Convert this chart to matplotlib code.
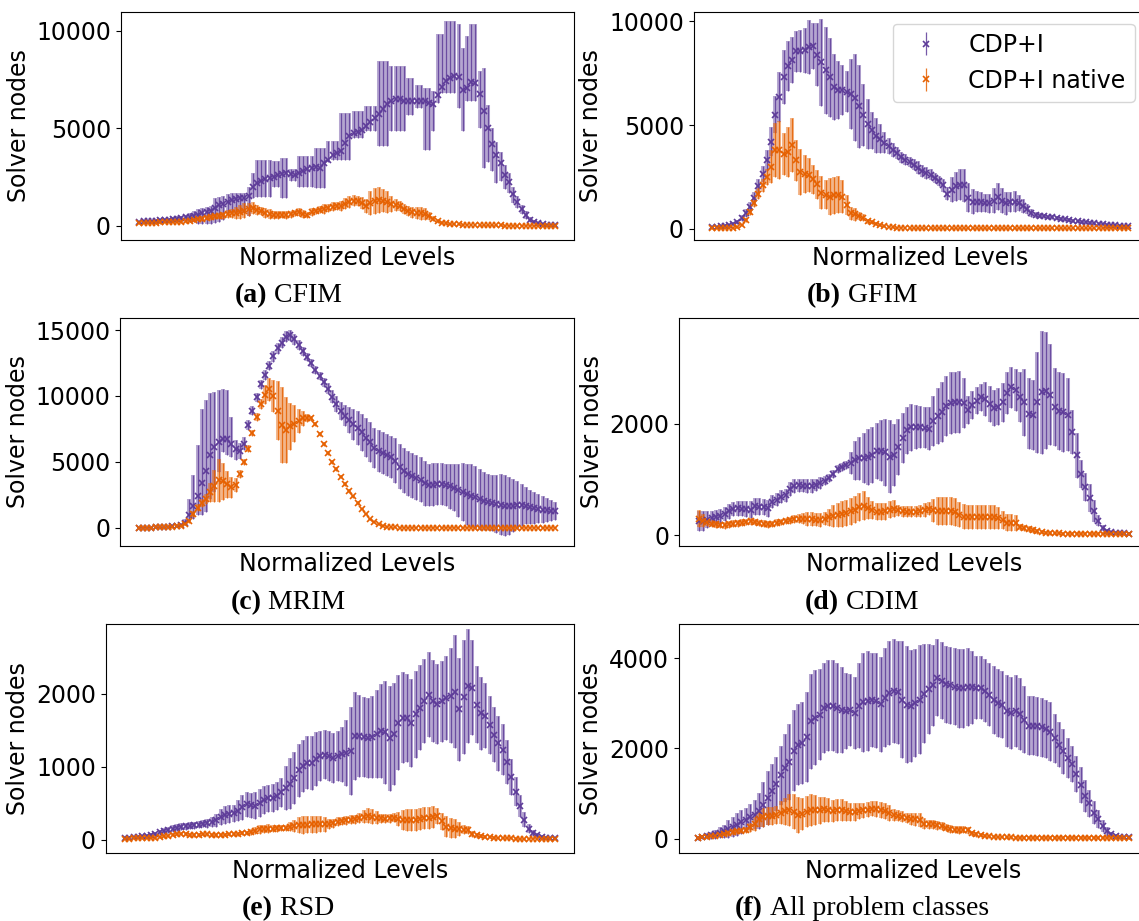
import numpy as np
import matplotlib
matplotlib.use("Agg")
import matplotlib.pyplot as plt

W, H = 1139, 921
PURPLE = "#5e3c99"
ORANGE = "#e66101"
series_labels = ["CDP+I", "CDP+I native"]

# ---------------- (a) CFIM ----------------
cfim_cdp_mean = [220,230,240,255,270,290,310,330,350,380,
 400,440,480,530,580,640,700,780,900,1050,
 1150,1250,1320,1380,1420,1450,1550,2000,2200,2300,
 2400,2450,2500,2600,2680,2700,2640,2620,2700,2800,
 2900,2960,3000,2990,3200,3400,3620,3750,3850,4250,
 4600,4760,4800,4900,5100,5350,5530,5760,6000,6250,
 6420,6480,6500,6420,6380,6390,6410,6400,6380,6300,
 6230,6700,7100,7400,7600,7700,7650,6950,7050,7350,
 7300,6750,5900,5000,4200,3650,3200,2600,2250,1650,
 1250,850,550,330,220,150,100,70,50,40]
cfim_cdp_low = [160,170,180,190,200,210,220,240,250,270,
 280,300,223,223,100,100,100,120,150,200,
 300,650,650,650,650,650,500,1421,1507,1507,
 1507,1507,2020,2020,1421,1421,2300,2300,2020,2020,
 2020,2020,1969,1969,1969,3300,3390,3390,3390,3390,
 3390,4503,4503,4503,4845,4845,4845,4075,4075,4075,
 4845,4845,4845,4845,5701,5701,6043,6043,3903,3903,
 4845,6300,6814,6814,6814,6814,6043,4879,6386,6386,
 6386,5016,2960,3300,2800,2200,2300,1900,1700,1200,
 900,600,380,220,140,90,60,40,25,20]
cfim_cdp_high = [280,290,300,320,340,370,400,420,450,490,
 520,580,651,750,873,900,950,1000,1455,1500,
 1550,1626,1700,1700,1700,1700,2000,2705,3390,3390,
 3390,3390,3304,3304,3475,3475,2900,2900,3561,3561,
 3561,3561,3989,3989,3989,4331,4331,4331,5787,5787,
 5787,5872,5872,5872,6129,6129,6129,8440,8440,8440,
 8183,8183,8183,8183,7584,7584,7242,7242,7070,7070,
 6899,9810,9810,10495,10495,10495,10323,9125,9724,10323,
 10323,7927,8100,6200,5000,4300,3800,3100,2700,2000,
 1550,1100,750,450,300,210,140,100,75,60]
cfim_nat_mean = [140,145,150,160,170,180,190,200,210,215,
 225,250,280,310,340,380,430,460,490,520,
 560,600,640,680,730,790,850,910,830,750,
 670,610,565,565,565,565,600,660,700,620,
 580,700,780,840,880,940,990,1010,1040,1150,
 1230,1300,1260,1170,1040,1180,1270,1330,1300,1240,
 1140,1090,1040,880,780,710,680,650,620,500,
 380,240,170,130,110,95,80,70,60,50,
 45,40,35,30,30,25,25,20,20,20,
 20,20,20,20,20,20,20,20,20,20]
cfim_nat_err = [60,60,60,60,60,60,60,60,60,70,
 70,80,80,90,100,110,120,130,140,150,
 180,200,250,300,350,380,350,300,250,200,
 250,250,200,200,180,200,180,150,200,200,
 150,200,150,200,250,200,220,200,250,280,
 300,300,250,300,350,600,650,650,600,550,
 400,300,250,250,250,280,300,320,300,200,
 150,100,80,60,50,40,30,30,20,20,
 20,20,20,20,20,20,20,20,20,20,
 20,20,20,20,20,20,20,20,20,20]

# ---------------- (b) GFIM ----------------
gfim_cdp_mean = [110,120,135,160,190,250,350,520,770,1050,
 1500,2050,2650,3300,4200,5500,6350,7300,7850,8150,
 8550,8580,8600,8750,8800,8400,8020,7650,7300,6850,
 6700,6680,6620,6500,6320,5900,5500,5050,4750,4500,
 4350,4150,4000,3800,3650,3450,3340,3220,3100,2950,
 2800,2700,2620,2450,2300,2100,1700,1900,2050,2130,
 2100,1500,1320,1320,1300,1250,1240,1350,1560,1350,
 1240,1300,1320,1250,1100,950,780,680,640,610,
 580,560,540,500,460,430,400,370,340,320,
 300,280,260,230,210,190,175,160,155,150]
gfim_cdp_err = [40,40,50,60,70,80,100,150,200,250,
 300,350,400,500,700,900,1200,1300,1200,1100,
 1000,1000,1100,1300,1100,1500,2100,2100,1900,1600,
 1400,1200,1000,1700,2100,2000,1500,1200,900,850,
 700,500,400,350,300,250,250,250,250,300,
 300,300,250,250,250,300,300,600,700,750,
 800,700,600,500,500,450,450,600,650,600,
 550,500,500,400,350,250,200,150,120,100,
 100,100,100,100,90,90,80,80,80,70,
 70,70,70,60,60,60,60,60,60,60]
gfim_nat_mean = [30,35,40,45,50,55,90,190,450,800,
 1250,1700,2100,2500,3000,3800,3800,3600,3700,4050,
 3300,2750,2650,2600,2400,2150,1750,1650,1560,1620,
 1650,1560,1160,750,700,620,550,380,340,260,
 200,160,120,90,70,60,50,40,35,30] + [30] * 50
gfim_nat_err = [20,20,20,20,20,25,40,60,100,150,
 200,250,300,400,800,1300,1400,1000,1200,1300,
 1000,1100,900,800,700,700,800,700,900,900,
 900,800,500,300,300,200,150,120,100,80,
 60,50,40,30,25,20,20,20,20,20] + [20] * 50

# ---------------- (c) MRIM ----------------
mrim_cdp_mean = [20,25,30,35,45,55,70,90,120,150,
 190,400,1000,1650,2450,3400,4300,5500,6100,6550,
 6750,6750,6400,5950,5850,6400,7800,8900,9900,10900,
 11600,12300,13000,13600,14050,14500,14600,14300,13850,13400,
 12950,12500,11950,11500,11050,10550,9950,9400,8850,8500,
 8200,7850,7550,7250,6850,6500,6050,5850,5700,5550,
 5350,5100,4650,4350,4100,3950,3800,3650,3400,3280,
 3290,3320,3360,3270,3150,3050,2850,2700,2550,2450,
 2320,2180,2050,1960,1880,1820,1780,1700,1660,1700,
 1740,1770,1700,1600,1500,1450,1400,1350,1320,1300]
mrim_cdp_err_lo = [30,30,30,30,40,40,40,50,50,60,
 60,200,500,1000,1500,2400,3100,3300,3400,2300,
 1000,1250,1000,800,600,500,400,350,350,350,
 350,350,400,400,400,400,400,400,400,350,
 300,300,300,300,350,400,500,600,700,800,
 1000,1200,1300,1400,1500,1500,1500,1600,1600,1600,
 1600,1700,1700,1700,1700,1700,1700,1700,1700,1600,
 1600,1600,1600,1600,1700,1800,2000,2200,2300,2400,
 2400,2300,2200,2100,2100,2200,2300,2300,2200,2000,
 1800,1600,1400,1300,1200,1100,1000,900,800,700]
mrim_cdp_err_hi = [30,30,30,30,40,40,40,50,50,60,
 60,300,1200,2350,3800,5600,5400,4700,4200,3900,
 3800,3700,2000,700,600,500,400,350,350,350,
 350,350,400,400,400,400,400,400,400,350,
 300,300,300,300,350,400,500,600,700,800,
 1000,1200,1300,1400,1500,1500,1500,1600,1600,1600,
 1600,1700,1700,1700,1700,1700,1700,1700,1700,1600,
 1600,1600,1600,1600,1700,1800,2000,2200,2300,2400,
 2400,2300,2200,2100,2100,2200,2300,2300,2200,2000,
 1800,1600,1400,1300,1200,1100,1000,900,800,700]
mrim_nat_mean = [20,20,25,30,40,50,60,80,100,120,
 150,300,550,1050,1550,1900,2200,2700,3200,3600,
 3550,3300,3100,3250,4100,5000,6000,7200,8400,9400,
 10100,10500,10000,8900,7800,7400,7700,7900,8100,8300,
 8350,8300,7900,7100,6350,5700,5000,4450,3900,3300,
 2800,2400,1900,1450,1050,700,470,300,160,90,
 60,40,30,25,25,25,25,25,25,25] + [25] * 30
mrim_nat_err = [20,20,20,20,20,20,20,30,30,40,
 40,80,150,200,250,300,400,700,1200,1600,
 1400,1000,800,500,300,250,250,250,300,400,
 700,900,1200,2200,2900,2500,1800,1400,900,600,
 300,200,150,150,150,150,150,150,150,150,
 120,120,120,100,100,80,60,50,40,30] + [30] * 40

# ---------------- (d) CDIM ----------------
cdim_cdp_mean = [250,260,280,305,320,340,385,430,470,480,
 475,465,455,520,515,505,485,600,640,690,
 715,830,880,895,890,885,885,900,935,980,
 1030,1100,1180,1225,1265,1300,1340,1375,1380,1400,
 1440,1510,1515,1490,1410,1440,1580,1740,1880,1930,
 1940,1940,1925,1910,2040,2130,2210,2310,2370,2380,
 2385,2370,2250,2330,2410,2470,2440,2350,2280,2300,
 2380,2550,2650,2600,2480,2380,2180,2150,2380,2560,
 2590,2520,2300,2230,2200,2160,1850,1430,1100,870,
 660,440,260,130,80,55,45,40,35,30]
cdim_cdp_err = [180,180,150,130,130,130,130,130,130,130,
 130,140,150,150,150,150,150,120,120,120,
 120,130,130,120,120,120,120,100,100,80,
 70,70,70,70,70,200,350,380,450,500,
 500,500,550,600,650,550,500,450,420,420,
 400,380,370,380,450,500,540,540,550,550,
 550,450,250,250,240,240,300,330,330,330,
 350,370,370,370,450,600,630,630,900,1100,
 1050,900,700,700,700,650,400,400,250,250,
 250,200,100,60,40,30,30,30,30,30]
cdim_nat_mean = [300,260,235,210,195,185,180,195,210,215,
 225,240,250,240,220,205,195,200,225,240,
 255,265,285,300,300,295,290,280,275,300,
 325,340,360,380,400,430,460,510,530,490,
 450,425,425,430,455,475,450,430,420,420,
 425,430,455,475,445,430,435,440,430,420,
 370,335,330,330,330,330,330,330,330,305,
 270,225,225,220,150,130,110,95,70,55,
 45,40,35,32,30,30,30,30,30,30] + [30] * 10
cdim_nat_err = [150,120,60,60,60,60,60,60,60,60,
 60,60,60,60,60,60,60,60,60,60,
 60,60,70,80,100,120,120,120,120,120,
 150,200,220,230,230,240,240,250,260,200,
 160,160,150,150,150,150,100,100,100,100,
 100,110,120,120,200,250,250,250,250,250,
 230,220,220,220,220,220,220,220,220,200,
 160,150,150,140,60,60,60,50,40,35] + [30] * 20

# ---------------- (e) RSD ----------------
rsd_cdp_mean = [27,30,33,38,45,55,66,80,100,118,
 135,150,165,178,185,190,198,208,218,226,
 245,268,310,340,352,362,400,445,484,470,
 468,507,540,565,575,600,650,705,770,845,
 950,1010,1055,1055,1100,1146,1165,1150,1120,1150,
 1170,1190,1215,1420,1420,1410,1390,1410,1445,1489,
 1470,1390,1450,1600,1671,1665,1600,1717,1810,1900,
 1985,1900,1860,1895,1940,1975,2030,1785,1950,2100,
 2080,1850,1730,1700,1570,1440,1320,1230,1060,860,
 660,460,275,150,95,60,40,30,22,18]
rsd_cdp_err = [20,20,20,20,25,25,30,30,35,40,
 45,50,50,50,50,50,50,50,50,60,
 70,90,110,120,120,120,140,170,170,170,
 180,190,190,190,190,190,200,300,350,360,
 360,360,360,370,370,340,340,340,340,340,
 380,450,600,600,560,550,550,560,600,650,
 700,720,700,650,620,600,600,600,580,580,
 580,560,550,550,570,650,770,700,780,780,
 650,530,500,450,400,380,380,350,300,250,
 200,150,100,60,40,30,25,20,15,15]
rsd_nat_mean = [14,16,18,20,22,24,26,30,38,45,
 55,68,80,85,75,66,65,68,72,73,
 68,64,66,70,72,74,80,88,96,110,
 125,140,146,150,152,156,160,164,180,190,
 196,202,208,210,210,210,210,215,225,245,
 258,265,275,282,295,318,330,315,300,292,
 288,292,300,285,272,269,269,270,280,292,
 300,310,330,250,180,160,150,145,138,132,
 80,60,48,42,35,30,25,22,20,18,
 16,15,15,14,14,14,14,14,14,14]
rsd_nat_err = [10,10,10,10,10,10,10,15,15,15,
 20,20,25,25,25,25,25,25,25,25,
 25,25,25,25,25,25,25,30,30,40,
 50,60,60,60,50,50,40,40,60,80,
 110,120,120,120,120,110,100,70,60,60,
 60,60,60,60,70,90,100,100,90,60,
 60,60,60,100,140,150,150,150,150,150,
 150,150,110,120,140,140,130,100,60,50,
 40,30,25,20,15,15,15,15,15,15,
 15,15,15,10,10,10,10,10,10,10]

# ---------------- (f) All problem classes ----------------
all_cdp_mean = [22,40,62,78,96,130,160,205,260,310,
 370,420,480,530,610,750,900,1060,1220,1400,
 1560,1700,1950,2080,2120,2250,2600,2680,2750,2900,
 2950,2950,2900,2850,2830,2850,2790,2950,3020,3050,
 3070,3060,2980,3120,3220,3270,3240,3080,2970,2940,
 3000,3080,3210,3310,3400,3570,3500,3420,3400,3370,
 3330,3330,3360,3350,3345,3345,3280,3190,3080,3010,
 2970,2830,2790,2830,2760,2640,2500,2500,2490,2465,
 2430,2370,2220,2080,1940,1790,1650,1440,1180,950,
 780,580,430,275,160,95,60,44,35,30]
all_cdp_err = [40,50,60,80,100,120,150,200,230,250,
 260,270,280,320,400,500,600,600,600,650,
 750,850,900,900,900,1000,1050,1050,1000,1000,
 1000,1000,1000,950,850,800,800,950,1100,1100,
 1050,1050,1050,1100,1150,1150,1150,1300,1300,1250,
 1200,1200,1100,1000,900,850,850,850,850,850,
 870,870,870,800,700,700,700,700,750,750,
 750,800,800,800,800,750,650,650,650,650,
 650,650,550,500,500,450,400,400,400,350,
 300,250,200,130,90,60,45,35,30,30]
all_nat_mean = [22,35,45,56,70,90,110,128,145,160,
 175,200,250,330,429,470,500,510,525,580,
 610,630,600,530,550,600,640,640,630,648,
 635,615,640,640,612,590,590,610,630,645,
 665,655,640,615,570,530,505,485,460,435,
 429,410,330,318,315,300,275,240,215,200,
 192,200,190,118,95,78,65,55,46,40,
 35,30,28,25,25,25,25,25,25,25] + [25] * 20
all_nat_err = [20,20,25,25,30,40,50,60,60,60,
 60,70,100,150,180,200,200,200,200,250,
 300,350,380,400,350,350,350,330,300,280,
 260,250,250,250,220,200,200,180,170,170,
 170,180,180,180,180,130,120,120,120,130,
 150,150,120,100,100,100,90,80,80,80,
 80,80,80,60,50,40,35,30,30,30,
 30,30,30] + [25] * 27

# panel settings: (caption letter, name, y ticks, y limits)
panels = [
    ("(a)", "CFIM", [0, 5000, 10000], (-718, 10974)),
    ("(b)", "GFIM", [0, 5000, 10000], (-530, 10463)),
    ("(c)", "MRIM", [0, 5000, 10000, 15000], (-1364, 15932)),
    ("(d)", "CDIM", [0, 2000], (-192, 3896)),
    ("(e)", "RSD", [0, 1000, 2000], (-182, 2951)),
    ("(f)", "All problem classes", [0, 2000, 4000], (-317, 4749)),
]

def sym(err):
    e = np.asarray(err, float)
    return e, e

def bounds(mean, low, high):
    m = np.asarray(mean, float)
    return (np.maximum(m - np.asarray(low, float), 0),
            np.maximum(np.asarray(high, float) - m, 0))

data = [
    ((cfim_cdp_mean, bounds(cfim_cdp_mean, cfim_cdp_low, cfim_cdp_high)),
     (cfim_nat_mean, sym(cfim_nat_err))),
    ((gfim_cdp_mean, sym(gfim_cdp_err)),
     (gfim_nat_mean, sym(gfim_nat_err))),
    ((mrim_cdp_mean, (np.array(mrim_cdp_err_lo, float), np.array(mrim_cdp_err_hi, float))),
     (mrim_nat_mean, sym(mrim_nat_err))),
    ((cdim_cdp_mean, sym(cdim_cdp_err)),
     (cdim_nat_mean, sym(cdim_nat_err))),
    ((rsd_cdp_mean, sym(rsd_cdp_err)),
     (rsd_nat_mean, sym(rsd_nat_err))),
    ((all_cdp_mean, sym(all_cdp_err)),
     (all_nat_mean, sym(all_nat_err))),
]

# axes boxes in pixels: left, right, top, bottom
boxes = [
    (120.7, 574.0, 11.7, 240.0),
    (693.6, 1146.7, 11.7, 240.0),
    (120.0, 574.0, 317.7, 546.0),
    (679.3, 1148.0, 317.7, 546.0),
    (105.7, 574.0, 624.3, 853.0),
    (678.6, 1148.0, 624.3, 853.0),
]
caption_pos = [(288, 302), (862, 302), (288, 609), (862, 609), (288, 915), (862, 915)]

fig = plt.figure(figsize=(W / 100, H / 100), dpi=100)
FS = 17

def rgba(c, a):
    r, g, b = matplotlib.colors.to_rgb(c)
    return (r, g, b, a)

for k, ((letter, name, yt, yl), series, box) in enumerate(zip(panels, data, boxes)):
    l, r, t, b = box
    ax = fig.add_axes([l / W, 1 - b / H, (r - l) / W, (b - t) / H])
    for (mean, (elo, ehi)), col, lab in zip(series, [PURPLE, ORANGE], series_labels):
        m = np.asarray(mean, float)
        xs = np.linspace(0, 1, len(m))
        # light wide band behind each error bar
        ax.vlines(xs, m - elo, m + ehi, colors=[rgba(col, 0.45)], linewidths=2.9)
        # thin darker error bar with x marker at the mean
        ax.errorbar(xs, m, yerr=[elo, ehi], fmt='x', color=col,
                    ecolor=rgba(col, 0.85), elinewidth=0.9,
                    markersize=5, markeredgewidth=1.2, label=lab)
    ax.set_xlim(-0.045, 1.045)
    ax.set_ylim(*yl)
    ax.set_xticks([])
    ax.set_yticks(yt)
    ax.tick_params(axis='y', labelsize=FS)
    ax.set_xlabel("Normalized Levels", fontsize=FS)
    ax.set_ylabel("Solver nodes", fontsize=FS)
    if k == 1:
        ax.legend(loc='upper right', fontsize=FS)

# captions: bold letter + regular name, centred together
cap_texts = []
for (letter, name, yt, yl), (cx, cy) in zip(panels, caption_pos):
    t1 = fig.text(0, 1 - cy / H, letter, fontsize=20, family='Liberation Serif',
                  weight='bold', va='baseline', ha='left')
    t2 = fig.text(0, 1 - cy / H, "\u00a0" + name, fontsize=20, family='Liberation Serif',
                  va='baseline', ha='left')
    cap_texts.append((t1, t2, cx, cy))

fig.canvas.draw()
rend = fig.canvas.get_renderer()
for t1, t2, cx, cy in cap_texts:
    w1 = t1.get_window_extent(rend).width
    w2 = t2.get_window_extent(rend).width
    x0 = cx - (w1 + w2) / 2
    t1.set_x(x0 / W)
    t2.set_x((x0 + w1) / W)

fig.savefig("out.png", dpi=100)
